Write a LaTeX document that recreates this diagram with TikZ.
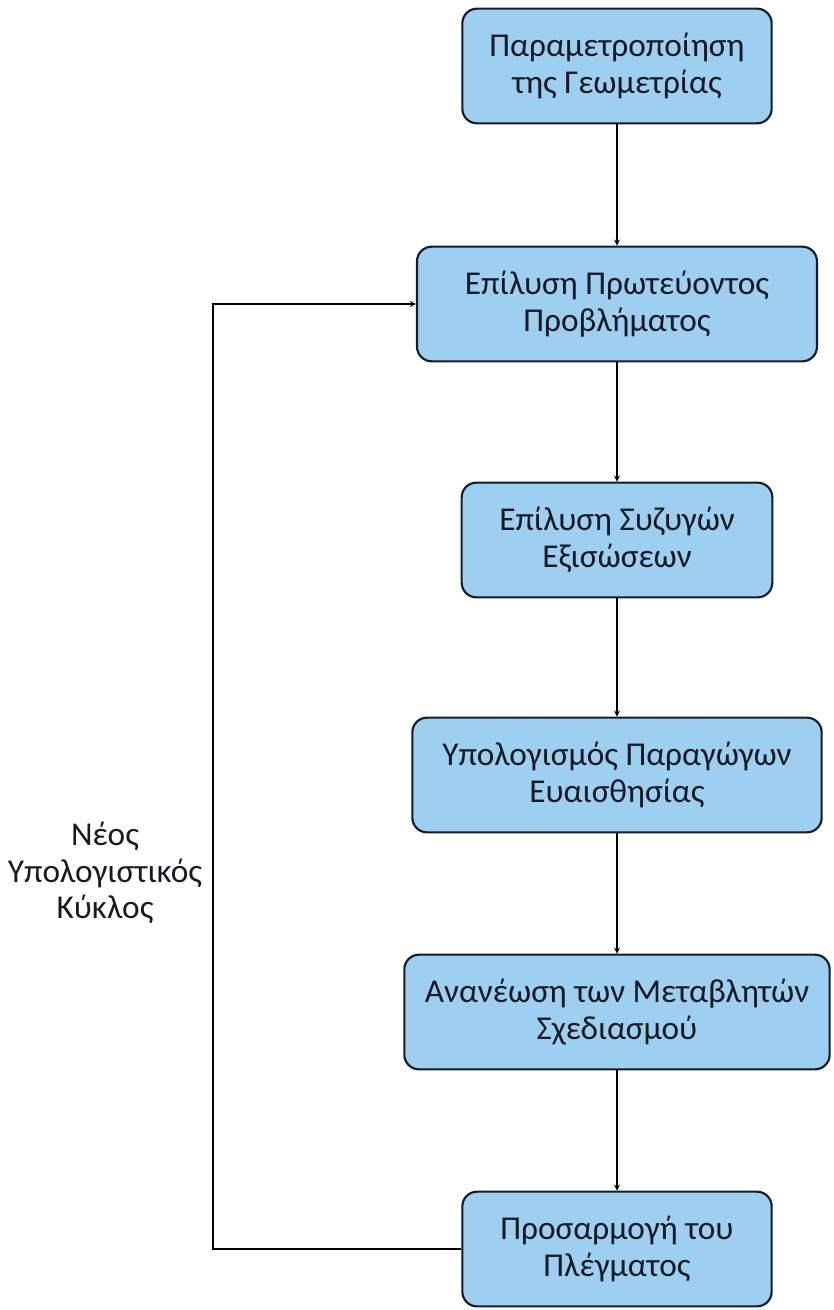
\documentclass[tikz,border=0pt]{standalone}
\usepackage{fontspec}
\setmainfont{Carlito}
\usetikzlibrary{positioning,calc}
\definecolor{boxblue}{RGB}{156,207,240}
\definecolor{boxline}{RGB}{20,28,40}
\definecolor{textdark}{RGB}{25,25,35}
\tikzset{
  stepbox/.style={shape=rectangle,draw=boxline,fill=boxblue,line width=1.6pt,
    rounded corners=11pt,align=center,font=\fontsize{25}{27.5}\selectfont,
    text=textdark,inner sep=0pt,minimum height=86pt},
  flow/.style={line width=1pt,-stealth}
}

\begin{document}
\begin{tikzpicture}[x=0.75pt,y=-0.75pt]
    \useasboundingbox (0,0) rectangle (833,1310);
    \node (param) [stepbox,minimum width=232pt] at (617,66) {Παραμετροποίηση\\της Γεωμετρίας};
    \node (primal) [stepbox,minimum width=300pt] at (617,304) {Επίλυση Πρωτεύοντος\\Προβλήματος};
    \node (adjoint) [stepbox,minimum width=233pt] at (617,540) {Επίλυση Συζυγών\\Εξισώσεων};
    \node (sens) [stepbox,minimum width=307pt] at (617,775) {Υπολογισμός Παραγώγων\\Ευαισθησίας};
    \node (update) [stepbox,minimum width=319pt] at (617,1012) {Ανανέωση των Μεταβλητών\\Σχεδιασμού};
    \node (mesh) [stepbox,minimum width=232pt] at (617,1249) {Προσαρμογή του\\Πλέγματος};
    \coordinate (loopbot) at (213,1249);
    \coordinate (looptop) at (213,304);
    \node (cycle) [align=center,text=textdark,font=\fontsize{25}{27.5}\selectfont] at (105,873) {Νέος\\Υπολογιστικός\\Κύκλος};
    \draw[flow] (param) -- (primal);
    \draw[flow] (primal) -- (adjoint);
    \draw[flow] (adjoint) -- (sens);
    \draw[flow] (sens) -- (update);
    \draw[flow] (update) -- (mesh);
    \draw[flow] (mesh.west) -- (loopbot) -- (looptop) -- (primal.west);
  \end{tikzpicture}
\end{document}
